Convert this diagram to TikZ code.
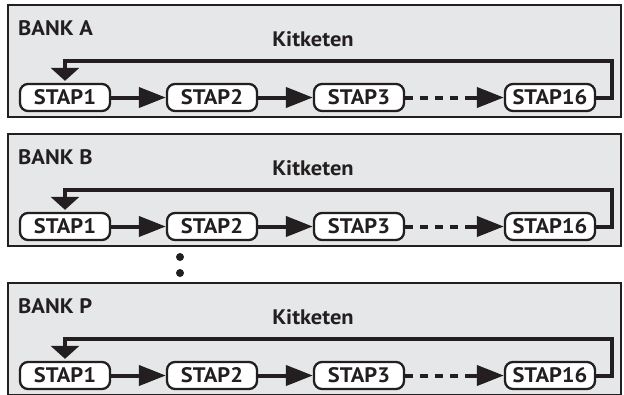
\documentclass[tikz,border=0pt]{standalone}
\usepackage{fontspec}
\setmainfont{PT Sans}[FakeStretch=1.07]
\usetikzlibrary{arrows.meta,calc}
\definecolor{ink}{HTML}{231F20}
\definecolor{panelgray}{HTML}{E6E7E8}
\begin{document}
\begin{tikzpicture}[x=1pt,y=-1pt,
  font=\bfseries\fontsize{21}{23}\selectfont, text=ink,
  panel/.style={draw=ink, line width=2.8pt, fill=panelgray, minimum width=613pt, minimum height=112pt, inner sep=0pt},
  stapbox/.style={draw=ink, line width=2.3pt, fill=white, rounded corners=8pt, minimum width=90pt, minimum height=27pt, inner sep=0pt},
  conn/.style={draw=ink, line width=4pt, -{Triangle[length=27pt,width=20pt]}},
  dashconn/.style={draw=ink, line width=4pt, dash pattern=on 8pt off 7pt},
  ret/.style={draw=ink, line width=4pt, -{Triangle[length=13pt,width=28pt]}, shorten >=2pt},
  dot/.style={circle, fill=ink, inner sep=0pt, minimum size=8pt}]
\useasboundingbox (0,0) rectangle (624,394);
\clip (0,0) rectangle (624,394);
\foreach \p/\lab/\t in {A/BANK A/5, B/BANK B/134, P/BANK P/283}{
  \node[panel] (panel\p) at (314.5,\t+56) {};
  \node[anchor=base west, inner sep=0pt] (bank\p) at (18,\t+30) {\lab};
  \node[anchor=base, inner sep=0pt] (kit\p) at (313,\t+41) {Kitketen};
  \node[stapbox] (s1\p) at (65,\t+92.5) {STAP1};
  \node[stapbox] (s2\p) at (212,\t+92.5) {STAP2};
  \node[stapbox] (s3\p) at (359,\t+92.5) {STAP3};
  \node[stapbox] (s16\p) at (550,\t+92.5) {STAP16};
  \coordinate (d\p) at (468,\t+92.5);
  \coordinate (r\p) at (612,\t+56);
  \draw[conn] (s1\p) -- (s2\p);
  \draw[conn] (s2\p) -- (s3\p);
  \draw[dashconn] (s3\p.east) -- (d\p);
  \draw[conn] (d\p) -- (s16\p.west);
  \draw[ret] (s16\p.east) -| (r\p) -| (s1\p.north);
}
\node[dot] (dot1) at (180,257) {};
\node[dot] (dot2) at (180,273) {};
\end{tikzpicture}
\end{document}
